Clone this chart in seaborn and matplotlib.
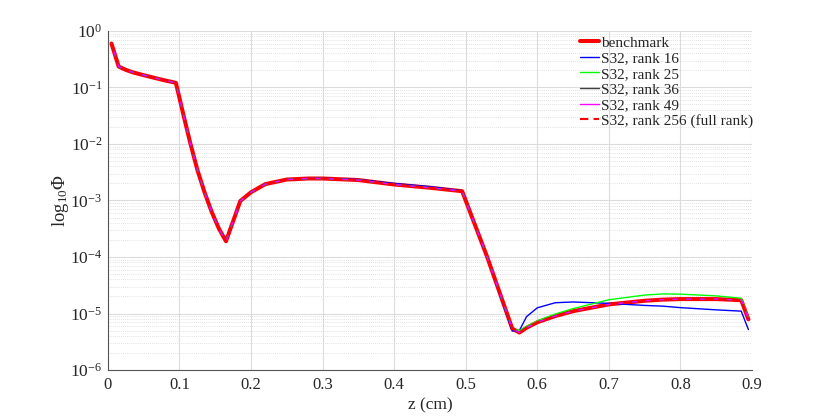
import numpy as np
import pandas as pd
import matplotlib
matplotlib.use("Agg")
import matplotlib.pyplot as plt
import seaborn as sns
from matplotlib.ticker import LogLocator, NullFormatter

# ---------------- data ----------------
z = [0.005, 0.015, 0.025, 0.035, 0.05, 0.065, 0.08, 0.095, 0.105, 0.115,
     0.125, 0.135, 0.145, 0.155, 0.165, 0.175, 0.185, 0.2, 0.22, 0.25,
     0.28, 0.3, 0.35, 0.4, 0.45, 0.495, 0.53, 0.565, 0.575, 0.585,
     0.6, 0.625, 0.65, 0.7, 0.75, 0.775, 0.8, 0.85, 0.885, 0.895]

benchmark = [0.6, 0.235, 0.205, 0.185, 0.165, 0.148, 0.133, 0.121, 0.035, 0.0105,
             3.5e-3, 1.4e-3, 6.3e-4, 3.2e-4, 1.9e-4, 4.3e-4, 9.8e-4, 1.4e-3, 1.95e-3, 2.35e-3,
             2.45e-3, 2.45e-3, 2.3e-3, 1.92e-3, 1.68e-3, 1.46e-3, 1.0e-4, 5.4e-6, 4.6e-6, 5.6e-6,
             7.0e-6, 9.0e-6, 1.1e-5, 1.45e-5, 1.68e-5, 1.76e-5, 1.8e-5, 1.8e-5, 1.72e-5, 7.9e-6]

rank16 = [0.6, 0.235, 0.205, 0.185, 0.165, 0.148, 0.133, 0.121, 0.035, 0.0105,
          3.5e-3, 1.4e-3, 6.3e-4, 3.2e-4, 1.9e-4, 4.3e-4, 9.8e-4, 1.4e-3, 1.95e-3, 2.35e-3,
          2.46e-3, 2.47e-3, 2.35e-3, 2.0e-3, 1.76e-3, 1.49e-3, 1.0e-4, 4.9e-6, 5.0e-6, 8.8e-6,
          1.26e-5, 1.55e-5, 1.6e-5, 1.51e-5, 1.39e-5, 1.35e-5, 1.27e-5, 1.16e-5, 1.1e-5, 5.2e-6]

rank25 = [0.6, 0.235, 0.205, 0.185, 0.165, 0.148, 0.133, 0.121, 0.035, 0.0105,
          3.5e-3, 1.4e-3, 6.3e-4, 3.2e-4, 1.9e-4, 4.3e-4, 9.8e-4, 1.4e-3, 1.95e-3, 2.35e-3,
          2.45e-3, 2.45e-3, 2.3e-3, 1.92e-3, 1.68e-3, 1.46e-3, 1.0e-4, 5.3e-6, 5.0e-6, 5.9e-6,
          7.4e-6, 9.8e-6, 1.22e-5, 1.75e-5, 2.12e-5, 2.22e-5, 2.2e-5, 2.05e-5, 1.86e-5, 8.4e-6]

rank36 = list(benchmark)
rank49 = list(benchmark)
rank256 = list(benchmark)

labels = ["benchmark", "S32, rank 16", "S32, rank 25", "S32, rank 36",
          "S32, rank 49", "S32, rank 256 (full rank)"]
series = [benchmark, rank16, rank25, rank36, rank49, rank256]

xticks = [0, 0.1, 0.2, 0.3, 0.4, 0.5, 0.6, 0.7, 0.8, 0.9]
xticklabels = ["0", "0.1", "0.2", "0.3", "0.4", "0.5", "0.6", "0.7", "0.8", "0.9"]

# ---------------- style ----------------
sns.set_theme(style="white")
plt.rcParams["font.family"] = ["Liberation Serif", "DejaVu Serif"]
plt.rcParams["mathtext.fontset"] = "custom"
plt.rcParams["mathtext.rm"] = "Liberation Serif"
plt.rcParams["mathtext.it"] = "Liberation Serif:italic"
plt.rcParams["mathtext.bf"] = "Liberation Serif:bold"

colors = ["#ff0000", "#0000ff", "#00ff00", "#404040", "#ff00ff", "#ff0000"]
widths = [2.9, 1.0, 1.0, 1.0, 1.0, 1.5]
dashes = [None, None, None, None, None, (4, 2.5)]

fig = plt.figure(figsize=(8.3, 4.17), dpi=100)
ax = fig.add_axes([0.130, 0.1127, 0.776, 0.813])

for lab, vals, c, w, d in zip(labels, series, colors, widths, dashes):
    df = pd.DataFrame({"z": z, "phi": vals})
    sns.lineplot(data=df, x="z", y="phi", ax=ax, color=c, linewidth=w,
                 label=lab, sort=False, estimator=None)
    if d is not None:
        ax.lines[-1].set_dashes(d)

ax.set_yscale("log")
ax.set_xlim(0, 0.9)
ax.set_ylim(1e-6, 1)
ax.set_xticks(xticks)
ax.set_xticklabels(xticklabels)
ax.yaxis.set_major_locator(LogLocator(base=10, numticks=10))
ax.yaxis.set_minor_locator(LogLocator(base=10, subs=np.arange(2, 10), numticks=100))
ax.yaxis.set_minor_formatter(NullFormatter())
ax.xaxis.get_offset_text().set_visible(False)
ax.yaxis.get_offset_text().set_visible(False)

ax.grid(True, which="major", color="#dcdcdc", linewidth=0.8, linestyle="-")
ax.grid(True, which="minor", axis="y", color="#d8d8d8", linewidth=0.6, linestyle=(0, (1, 1.5)))
ax.set_axisbelow(True)

for s in ["top", "right"]:
    ax.spines[s].set_visible(False)
for s in ["left", "bottom"]:
    ax.spines[s].set_color("#555555")
    ax.spines[s].set_linewidth(0.8)

ax.tick_params(axis="both", which="major", direction="in", length=4, width=0.8,
               color="#555555", labelsize=12, labelcolor="#262626", pad=5)
ax.tick_params(axis="y", which="minor", direction="in", length=2, width=0.6, color="#555555")
ax.tick_params(axis="y", which="major", labelsize=12.5, pad=4)

ax.set_xlabel("z (cm)", fontsize=12.5, color="#262626", labelpad=3)
ax.set_ylabel(r"log$_{10}\Phi$", fontsize=13.5, color="#262626", labelpad=-1)

leg = ax.legend(loc="upper left", bbox_to_anchor=(0.733, 0.985), frameon=False,
                fontsize=11, handlelength=1.25, handletextpad=0.1,
                labelspacing=0.12, borderaxespad=0, borderpad=0)
for t in leg.get_texts():
    t.set_color("#262626")

fig.savefig("out.png", dpi=100)
